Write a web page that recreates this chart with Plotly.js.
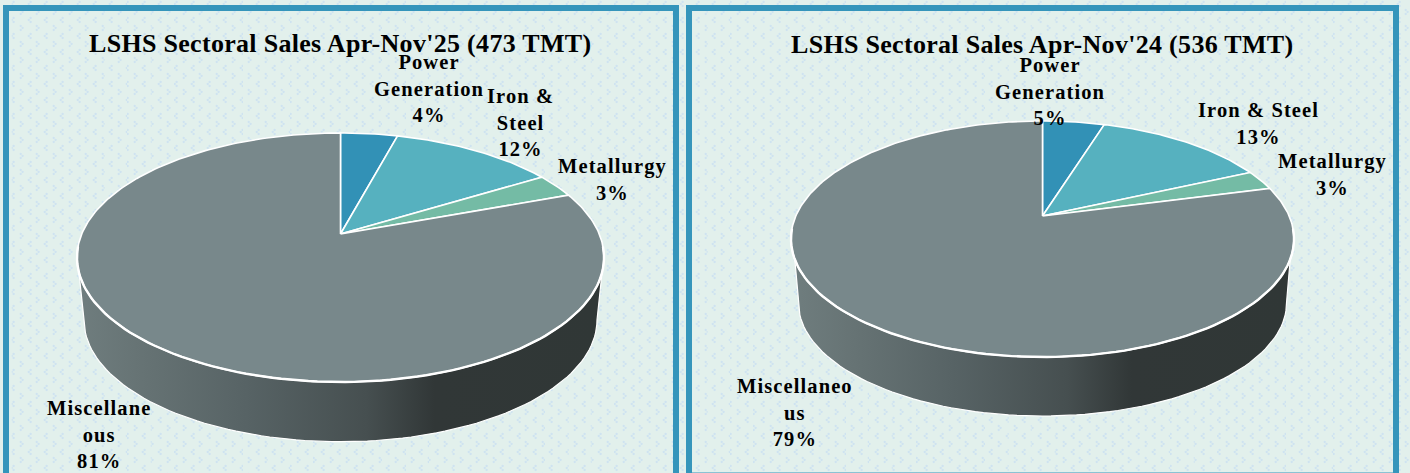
<!DOCTYPE html>
<html>
<head>
<meta charset="utf-8">
<script src="https://cdn.plot.ly/plotly-3.0.1.min.js"></script>
<style>
html,body{margin:0;padding:0;width:1410px;height:473px;overflow:hidden;background-color:#E2F0EC;
background-image:url("data:image/svg+xml;utf8,<svg xmlns='http://www.w3.org/2000/svg' width='16.3' height='16'><g fill='%23CFE3F0'><circle cx='14' cy='2' r='1.15'/><circle cx='12.2' cy='4' r='1.15'/><circle cx='14' cy='6' r='1.15'/><circle cx='4.5' cy='10' r='1.15'/><circle cx='6.3' cy='12' r='1.15'/><circle cx='4.5' cy='14' r='1.15'/></g></svg>");}
#chart{width:1410px;height:473px;}
</style>
</head>
<body>
<div id="chart"></div>
<script>
const categories = ["Power Generation", "Iron & Steel", "Metallurgy", "Miscellaneous"];
const sales25 = [4.2, 12.1, 3.1, 80.6];
const sales24 = [4.8, 13.4, 2.7, 79.1];
const labels25 = ["Power<br>Generation", "Iron &<br>Steel", "Metallurgy", "Miscellane<br>ous"];
const labels24 = ["Power<br>Generation", "Iron & Steel", "Metallurgy", "Miscellaneo<br>us"];
const title25 = "LSHS Sectoral Sales Apr-Nov'25 (473 TMT)";
const title24 = "LSHS Sectoral Sales Apr-Nov'24 (536 TMT)";
const sliceColors = ["#3291B6", "#56B1BF", "#74BBA5", "#78888B"];
const wallScale = [[0, "#6F7D7E"], [0.12, "#667374"], [0.32, "#576365"], [0.55, "#464F50"], [0.68, "#313737"], [1, "#303736"]];
const FONT = "'Liberation Serif', serif";

const panels = [
  {values: sales25, labels: labels25, title: title25, titleX: 340, titleY: 43, shoulderDeg: 97,
   cx: 340.5, cy: 257.5, rx: 263.5, ry: 124.5, apexY: 234, bx: 256.5, bcy: 320, bry: 121.7,
   labelPos: [[429, 88], [520, 122], [612.5, 179], [99, 434.5]]},
  {values: sales24, labels: labels24, title: title24, titleX: 1042, titleY: 44, shoulderDeg: 100,
   cx: 1042.5, cy: 239, rx: 251.5, ry: 118, apexY: 216, bx: 244, bcy: 303, bry: 113,
   labelPos: [[1050, 91], [1258, 123], [1332, 174], [795, 412]]}
];

const traces = [], annotations = [];

panels.forEach(p => {
  const a = (p.cy - p.apexY) / p.ry;
  const k = Math.sqrt((1 - a) / (1 + a));
  const toRim = th => 2 * Math.atan2(k * Math.sin(th / 2), Math.cos(th / 2));
  const rimX = t => p.cx + p.rx * Math.sin(t);
  const rimY = t => p.cy - p.ry * Math.cos(t);

  // side wall
  const wx = [], wy = [];
  const shoulder = p.shoulderDeg * Math.PI / 180;
  wx.push(rimX(-shoulder)); wy.push(rimY(-shoulder));
  for (let d = 270; d >= 90; d -= 2) {
    const t = d * Math.PI / 180;
    wx.push(p.cx + p.bx * Math.sin(t));
    wy.push(p.bcy - p.bry * Math.cos(t));
  }
  wx.push(rimX(shoulder)); wy.push(rimY(shoulder));
  traces.push({type: "scatter", mode: "lines", x: wx, y: wy, fill: "toself",
    fillgradient: {type: "horizontal", colorscale: wallScale},
    line: {color: "#FFFFFF", width: 1.2}, hoverinfo: "skip", showlegend: false});

  // top face slices
  const total = p.values.reduce((s, v) => s + v, 0);
  let cum = 0;
  p.values.forEach((v, i) => {
    const t0 = toRim(cum / total * 2 * Math.PI);
    cum += v;
    const t1 = toRim(cum / total * 2 * Math.PI);
    const xs = [p.cx], ys = [p.apexY];
    const n = Math.max(4, Math.ceil((t1 - t0) / 0.015));
    for (let j = 0; j <= n; j++) {
      const t = t0 + (t1 - t0) * j / n;
      xs.push(rimX(t)); ys.push(rimY(t));
    }
    xs.push(p.cx); ys.push(p.apexY);
    traces.push({type: "scatter", mode: "lines", x: xs, y: ys, fill: "toself",
      fillcolor: sliceColors[i], line: {color: "#FFFFFF", width: 1.6},
      name: categories[i], text: categories[i] + " " + v + "%", hoverinfo: "text", showlegend: false});

    const pct = Math.round(v / total * 100);
    annotations.push({xref: "x", yref: "y", x: p.labelPos[i][0], y: p.labelPos[i][1],
      text: "<b><span style='letter-spacing:1.1px'>" + p.labels[i] + "<br>" + pct + "%</span></b>", showarrow: false,
      xanchor: "center", yanchor: "middle", align: "center",
      font: {family: FONT, size: 20.5, color: "#000000"}});
  });

  // heavier front rim of the top face
  const fx = [], fy = [];
  for (let d = 85; d <= 275; d += 2) {
    const t = d * Math.PI / 180;
    fx.push(rimX(t)); fy.push(rimY(t));
  }
  traces.push({type: "scatter", mode: "lines", x: fx, y: fy,
    line: {color: "#FFFFFF", width: 2.4}, hoverinfo: "skip", showlegend: false});

  annotations.push({xref: "x", yref: "y", x: p.titleX, y: p.titleY,
    text: "<b><span style='letter-spacing:0.3px'>" + p.title + "</span></b>", showarrow: false, xanchor: "center", yanchor: "middle",
    font: {family: FONT, size: 26, color: "#000000"}});
});

const frame = (x0, x1, y1) => ({type: "rect", xref: "x", yref: "y", x0: x0, x1: x1, y0: 8, y1: y1,
  line: {color: "#3595BB", width: 6}, fillcolor: "rgba(0,0,0,0)", layer: "below"});

const layout = {
  width: 1410, height: 473,
  margin: {l: 0, r: 0, t: 0, b: 0},
  paper_bgcolor: "rgba(0,0,0,0)", plot_bgcolor: "rgba(0,0,0,0)",
  xaxis: {range: [0, 1410], visible: false, fixedrange: true},
  yaxis: {range: [473, 0], visible: false, fixedrange: true},
  showlegend: false,
  shapes: [frame(6, 676, 490), frame(689, 1396, 475.5)],
  annotations: annotations
};

Plotly.newPlot("chart", traces, layout, {displayModeBar: false, staticPlot: true});
</script>
</body>
</html>
